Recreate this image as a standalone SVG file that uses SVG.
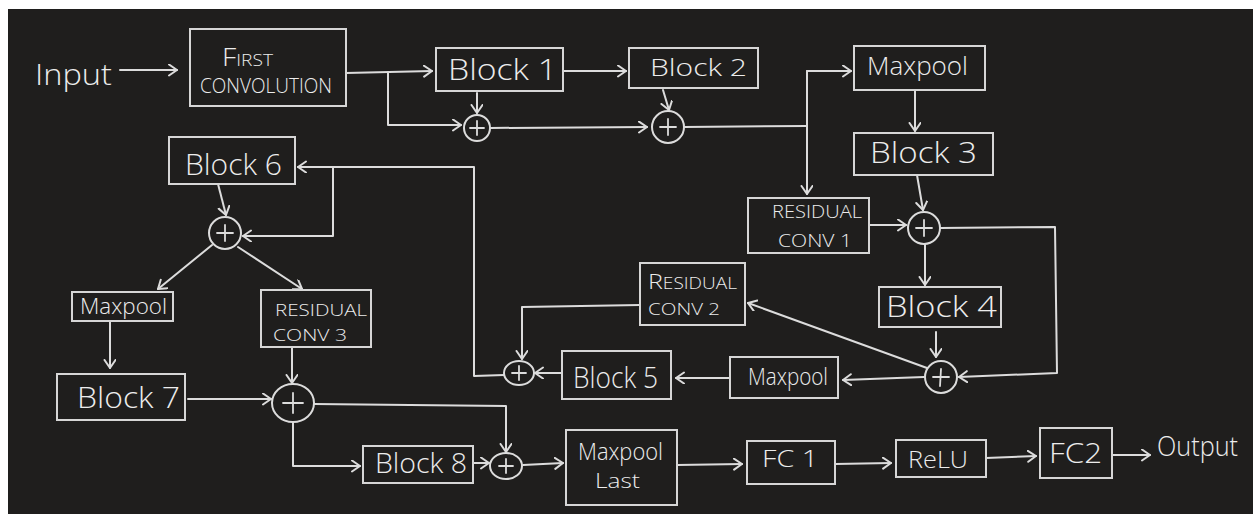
<svg xmlns="http://www.w3.org/2000/svg" width="1253" height="514" viewBox="0 0 1253 514">
<defs>
<marker id="ah" markerUnits="userSpaceOnUse" markerWidth="14" markerHeight="14" refX="9" refY="6" orient="auto">
<path d="M1,0.5 L9,6 L1,11.5" fill="none" stroke="#dcdcdc" stroke-width="2" stroke-linecap="round" stroke-linejoin="round"/>
</marker>
<style>
.box{fill:none;stroke:#d6d6d6;stroke-width:2}
.sum{fill:none;stroke:#dcdcdc;stroke-width:2}
.pl{stroke:#dcdcdc;stroke-width:1.8;stroke-linecap:round}
.t{font-family:"Open Sans","Liberation Sans",Arial,sans-serif;font-weight:300;fill:#ececec;text-anchor:start}
.c line,.c path{fill:none;stroke:#dcdcdc;stroke-width:2;stroke-linecap:round;stroke-linejoin:round}
.a{marker-end:url(#ah)}
</style>
</defs>
<rect x="0" y="0" width="1253" height="514" fill="#ffffff"/>
<rect x="8" y="9" width="1245" height="505" fill="#1f1e1d"/>

<g id="connectors" class="c">
<path class="a" d="M120,70 L177,70"/>
<path class="a" d="M346,73 L432,71"/>
<path class="a" d="M388,73 L388,125 L461,125"/>
<path class="a" d="M477,93 L477,113"/>
<path class="a" d="M563,71 L626,71"/>
<path class="a" d="M490,128 L647,127"/>
<path class="a" d="M663,90 L669,110"/>
<path d="M684,127 L807,126"/>
<path class="a" d="M807,71 L807,194"/>
<path class="a" d="M807,71 L851,71"/>
<path class="a" d="M915,90 L915,131"/>
<path class="a" d="M917,175 L923,210"/>
<path class="a" d="M869,225 L906,225"/>
<path class="a" d="M925,244 L925,285"/>
<path class="a" d="M940,228 L1055,227 L1057,373 L959,377"/>
<path class="a" d="M936,332 L936,357"/>
<path class="a" d="M924,377 L843,380"/>
<path class="a" d="M927,368 L748,303"/>
<path class="a" d="M730,378 L676,378"/>
<path class="a" d="M640,305 L522,307 L522,359"/>
<path class="a" d="M562,373 L535,373"/>
<path class="a" d="M504,375 L474,376 L474,167 L298,167"/>
<path class="a" d="M333,167 L333,236 L243,236"/>
<path class="a" d="M218,184 L226,215"/>
<path class="a" d="M212,245 L158,289"/>
<path class="a" d="M238,247 L302,289"/>
<path class="a" d="M110,321 L110,368"/>
<path class="a" d="M188,399 L271,399"/>
<path class="a" d="M292,347 L292,383"/>
<path class="a" d="M314,404 L506,406 L506,452"/>
<path class="a" d="M293,423 L293,466 L360,466"/>
<path class="a" d="M474,463 L489,463"/>
<path class="a" d="M523,465 L563,463"/>
<path class="a" d="M677,465 L742,464"/>
<path class="a" d="M835,464 L891,463"/>
<path class="a" d="M986,458 L1036,456"/>
<path class="a" d="M1112,455 L1150,455"/>
</g>

<g id="input"><text class="t" x="35" y="85" font-size="30" textLength="77" lengthAdjust="spacingAndGlyphs">Input</text></g>

<g id="first-conv">
<rect class="box" x="190" y="29" width="156" height="77"/>
<text class="t" x="222" y="66" font-size="25" textLength="51" lengthAdjust="spacingAndGlyphs">F<tspan font-size="17">IRST</tspan></text>
<text class="t" x="200" y="93" font-size="20" textLength="132" lengthAdjust="spacingAndGlyphs">CONVOLUTION</text>
</g>

<g id="block1">
<rect class="box" x="436" y="48" width="127" height="43"/>
<text class="t" x="448" y="80" font-size="29" textLength="109" lengthAdjust="spacingAndGlyphs">Block 1</text>
</g>

<g id="block2">
<rect class="box" x="629" y="48" width="129" height="40"/>
<text class="t" x="650" y="76" font-size="24" textLength="97" lengthAdjust="spacingAndGlyphs">Block 2</text>
</g>

<g id="sum1"><circle class="sum" cx="477" cy="128" r="13"/><line class="pl" x1="470" y1="128" x2="484" y2="128"/><line class="pl" x1="477" y1="121" x2="477" y2="135"/></g>
<g id="sum2"><circle class="sum" cx="668" cy="127" r="16"/><line class="pl" x1="660" y1="127" x2="676" y2="127"/><line class="pl" x1="668" y1="119" x2="668" y2="135"/></g>

<g id="maxpool1">
<rect class="box" x="854" y="46" width="131" height="44"/>
<text class="t" x="867" y="75" font-size="26" textLength="101" lengthAdjust="spacingAndGlyphs">Maxpool</text>
</g>

<g id="block3">
<rect class="box" x="854" y="133" width="139" height="42"/>
<text class="t" x="870" y="163" font-size="29" textLength="107" lengthAdjust="spacingAndGlyphs">Block 3</text>
</g>

<g id="resconv1">
<rect class="box" x="748" y="198" width="121" height="55"/>
<text class="t" x="772" y="218" font-size="18" textLength="90" lengthAdjust="spacingAndGlyphs">RESIDUAL</text>
<text class="t" x="778" y="247" font-size="19" textLength="74" lengthAdjust="spacingAndGlyphs">CONV 1</text>
</g>

<g id="sum3"><circle class="sum" cx="924" cy="228" r="16"/><line class="pl" x1="916" y1="228" x2="932" y2="228"/><line class="pl" x1="924" y1="220" x2="924" y2="236"/></g>

<g id="block4">
<rect class="box" x="879" y="287" width="122" height="40"/>
<text class="t" x="886" y="317" font-size="29" textLength="111" lengthAdjust="spacingAndGlyphs">Block 4</text>
</g>

<g id="sum4"><circle class="sum" cx="941" cy="377" r="16"/><line class="pl" x1="933" y1="377" x2="949" y2="377"/><line class="pl" x1="941" y1="369" x2="940" y2="386"/></g>

<g id="maxpool2">
<rect class="box" x="730" y="357" width="108" height="41"/>
<text class="t" x="748" y="385" font-size="23" textLength="80" lengthAdjust="spacingAndGlyphs">Maxpool</text>
</g>

<g id="resconv2">
<rect class="box" x="640" y="263" width="105" height="62"/>
<text class="t" x="648" y="289" font-size="21" textLength="89" lengthAdjust="spacingAndGlyphs">R<tspan font-size="16">ESIDUAL</tspan></text>
<text class="t" x="648" y="315" font-size="16" textLength="72" lengthAdjust="spacingAndGlyphs">CONV 2</text>
</g>

<g id="block5">
<rect class="box" x="562" y="351" width="109" height="48"/>
<text class="t" x="573" y="388" font-size="30" textLength="85" lengthAdjust="spacingAndGlyphs">Block 5</text>
</g>

<g id="sum5"><ellipse class="sum" cx="519" cy="373" rx="15" ry="12"/><line class="pl" x1="512" y1="373" x2="526" y2="373"/><line class="pl" x1="519" y1="366" x2="519" y2="380"/></g>

<g id="block6">
<rect class="box" x="169" y="137" width="126" height="47"/>
<text class="t" x="185" y="175" font-size="30" textLength="97" lengthAdjust="spacingAndGlyphs">Block 6</text>
</g>

<g id="sum6"><circle class="sum" cx="225" cy="233" r="16"/><line class="pl" x1="217" y1="233" x2="233" y2="233"/><line class="pl" x1="225" y1="225" x2="225" y2="241"/></g>

<g id="maxpool3">
<rect class="box" x="72" y="292" width="101" height="29"/>
<text class="t" x="80" y="314" font-size="22" textLength="87" lengthAdjust="spacingAndGlyphs">Maxpool</text>
</g>

<g id="resconv3">
<rect class="box" x="261" y="290" width="110" height="57"/>
<text class="t" x="275" y="316" font-size="17" textLength="92" lengthAdjust="spacingAndGlyphs">RESIDUAL</text>
<text class="t" x="273" y="341" font-size="17" textLength="74" lengthAdjust="spacingAndGlyphs">CONV 3</text>
</g>

<g id="block7">
<rect class="box" x="57" y="374" width="128" height="46"/>
<text class="t" x="77" y="408" font-size="30" textLength="103" lengthAdjust="spacingAndGlyphs">Block 7</text>
</g>

<g id="sum7"><ellipse class="sum" cx="293" cy="403" rx="21" ry="19"/><line class="pl" x1="283" y1="403" x2="303" y2="403"/><line class="pl" x1="293" y1="393" x2="293" y2="413"/></g>

<g id="block8">
<rect class="box" x="363" y="446" width="110" height="37"/>
<text class="t" x="375" y="473" font-size="27" textLength="92" lengthAdjust="spacingAndGlyphs">Block 8</text>
</g>

<g id="sum8"><ellipse class="sum" cx="506" cy="466" rx="16" ry="13"/><line class="pl" x1="499" y1="466" x2="513" y2="466"/><line class="pl" x1="506" y1="459" x2="506" y2="473"/></g>

<g id="maxpool-last">
<rect class="box" x="566" y="430" width="111" height="75"/>
<text class="t" x="578" y="460" font-size="24" textLength="85" lengthAdjust="spacingAndGlyphs">Maxpool</text>
<text class="t" x="595" y="488" font-size="20" textLength="45" lengthAdjust="spacingAndGlyphs">Last</text>
</g>

<g id="fc1">
<rect class="box" x="747" y="441" width="88" height="43"/>
<text class="t" x="762" y="467" font-size="23" textLength="56" lengthAdjust="spacingAndGlyphs">FC 1</text>
</g>

<g id="relu">
<rect class="box" x="896" y="440" width="90" height="37"/>
<text class="t" x="908" y="468" font-size="24" textLength="60" lengthAdjust="spacingAndGlyphs">ReLU</text>
</g>

<g id="fc2">
<rect class="box" x="1040" y="428" width="72" height="50"/>
<text class="t" x="1049" y="463" font-size="28" textLength="53" lengthAdjust="spacingAndGlyphs">FC2</text>
</g>

<g id="output"><text class="t" x="1157" y="456" font-size="28" textLength="81" lengthAdjust="spacingAndGlyphs">Output</text></g>
</svg>
